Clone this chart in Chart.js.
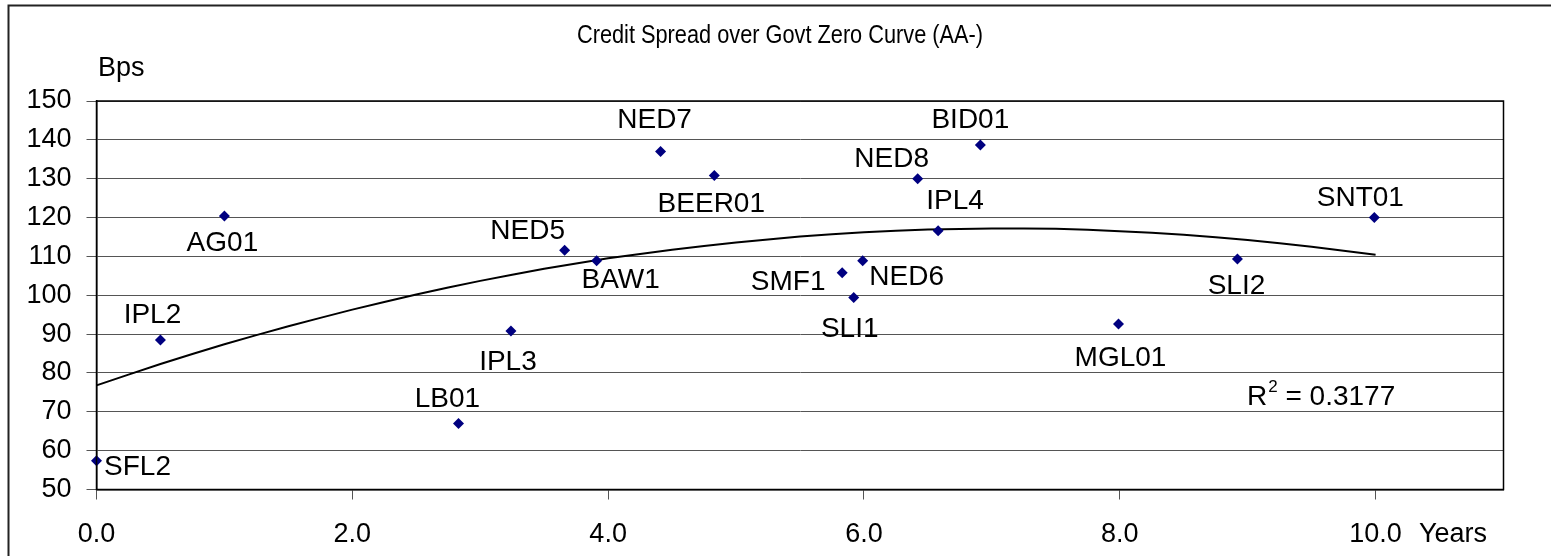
<!DOCTYPE html>
<html>
<head>
<meta charset="utf-8">
<title>Credit Spread over Govt Zero Curve (AA-)</title>
<script src="https://cdn.jsdelivr.net/npm/chart.js@4/dist/chart.umd.min.js"></script>
<style>
  html, body { margin: 0; padding: 0; background: #fff; }
  #wrap { position: relative; width: 1551px; height: 556px; }
</style>
</head>
<body>
<div id="wrap"><canvas id="spreadChart"></canvas></div>
<script>
// bonds: name, term to maturity (years), spread (bps)
const bondNames = ['SFL2', 'IPL2', 'AG01', 'LB01', 'IPL3', 'NED5', 'BAW1', 'NED7', 'BEER01',
  'SMF1', 'SLI1', 'NED6', 'NED8', 'IPL4', 'BID01', 'MGL01', 'SLI2', 'SNT01'];
const bondYears = [0.0, 0.5, 1.0, 2.83, 3.24, 3.66, 3.91, 4.41, 4.83,
  5.83, 5.92, 5.99, 6.42, 6.58, 6.91, 7.99, 8.92, 9.99];
const bondBps = [57.4, 88.5, 120.4, 67.0, 90.8, 111.6, 108.9, 137.0, 130.8,
  105.8, 99.4, 108.9, 130.0, 116.6, 138.7, 92.6, 109.3, 120.0];

// poly trend line
const trendYears = [0, 0.5, 1, 1.5, 2, 2.5, 3, 3.5, 4, 4.5, 5, 5.5, 6, 6.5, 7, 7.5, 8, 8.5, 9, 9.5, 10];
const trendBps = [76.8, 82.3, 87.4, 92.0, 96.3, 100.2, 103.7, 106.8, 109.5, 111.7, 113.6, 115.1,
  116.2, 116.9, 117.2, 117.1, 116.5, 115.6, 114.2, 112.5, 110.4];

const yTicks = [50, 60, 70, 80, 90, 100, 110, 120, 130, 140, 150];
const xTicks = [0, 2, 4, 6, 8, 10];
const rSquared = '0.3177';

// label offsets from the marker (px), as the labels were dragged in the original
const labelOffsets = [[41, 4], [-8, -27], [-2, 25], [-11, -26], [-3, 29], [-37, -21], [24, 17], [-6, -34], [-3, 26],
  [-54, 7], [-4, 29], [44, 14], [-26, -22], [17, -32], [-10, -27], [2, 32], [-1, 25], [-14, -22]];

const FONT = '"Liberation Sans", Arial, Helvetica, sans-serif';

Chart.defaults.color = '#000';
Chart.defaults.font.family = FONT;

const extras = {
  id: 'extras',
  afterDatasetsDraw(c) {
    const ctx = c.ctx;
    const a = c.chartArea;
    ctx.save();
    // plot area frame
    ctx.strokeStyle = '#000';
    ctx.lineWidth = 1.5;
    ctx.strokeRect(a.left, a.top, a.right - a.left, a.bottom - a.top);
    // outer chart frame
    ctx.lineWidth = 2;
    ctx.strokeStyle = '#222';
    ctx.strokeRect(8.5, 5.5, 1700, 700);

    ctx.fillStyle = '#000';
    ctx.font = '28px ' + FONT;
    ctx.textAlign = 'center';
    ctx.textBaseline = 'alphabetic';
    const pts = c.getDatasetMeta(0).data;
    pts.forEach((p, i) => {
      const o = labelOffsets[i];
      ctx.fillText(bondNames[i], p.x + o[0], p.y + o[1] + 10);
    });

    // title, condensed like the original
    ctx.save();
    ctx.font = '25px ' + FONT;
    ctx.translate(780, 43);
    ctx.scale(0.87, 1);
    ctx.fillText('Credit Spread over Govt Zero Curve (AA-)', 0, 0);
    ctx.restore();

    ctx.textAlign = 'left';
    ctx.font = '27px ' + FONT;
    ctx.fillText('Bps', 98, 76);
    ctx.fillText('Years', 1419, 542);

    // R squared
    ctx.font = '28px ' + FONT;
    let x = 1247;
    ctx.fillText('R', x, 405);
    x += ctx.measureText('R').width;
    ctx.font = '17px ' + FONT;
    ctx.fillText('2', x + 1, 392);
    x += ctx.measureText('2').width + 1;
    ctx.font = '28px ' + FONT;
    ctx.fillText(' = ' + rSquared, x, 405);
    ctx.restore();
  }
};

new Chart(document.getElementById('spreadChart'), {
  type: 'scatter',
  data: {
    datasets: [
      {
        label: 'Spread',
        data: bondYears.map((x, i) => ({ x, y: bondBps[i] })),
        pointStyle: 'rectRot',
        pointRadius: 5.5,
        pointHoverRadius: 5.5,
        backgroundColor: '#000080',
        borderColor: '#000080',
        borderWidth: 0,
        clip: false,
      },
      {
        label: 'Poly. (Spread)',
        data: trendYears.map((x, i) => ({ x, y: trendBps[i] })),
        showLine: true,
        borderColor: '#000',
        borderWidth: 2,
        pointRadius: 0,
        tension: 0.2,
      },
    ],
  },
  options: {
    responsive: true,
    maintainAspectRatio: false,
    animation: false,
    layout: { padding: { top: 101, right: 47.5, left: 0, bottom: 0 } },
    plugins: { legend: { display: false }, tooltip: { enabled: false }, title: { display: false } },
    scales: {
      x: {
        type: 'linear',
        min: 0,
        max: 11,
        afterBuildTicks: (s) => { s.ticks = xTicks.map((v) => ({ value: v })); },
        afterFit: (s) => { s.height = 66.5; },
        ticks: { callback: (v) => Number(v).toFixed(1), font: { size: 27 }, padding: 19, maxRotation: 0, autoSkip: false },
        grid: { drawOnChartArea: false, tickLength: 10, color: '#555' },
        border: { color: '#000', width: 1.5 },
      },
      y: {
        min: 50,
        max: 150,
        afterBuildTicks: (s) => { s.ticks = yTicks.map((v) => ({ value: v })); },
        afterFit: (s) => { s.width = 96.5; },
        ticks: { font: { size: 27 }, padding: 15 },
        grid: { tickLength: 10, color: '#555' },
        border: { color: '#000', width: 1.5 },
      },
    },
  },
  plugins: [extras],
});
</script>
</body>
</html>
